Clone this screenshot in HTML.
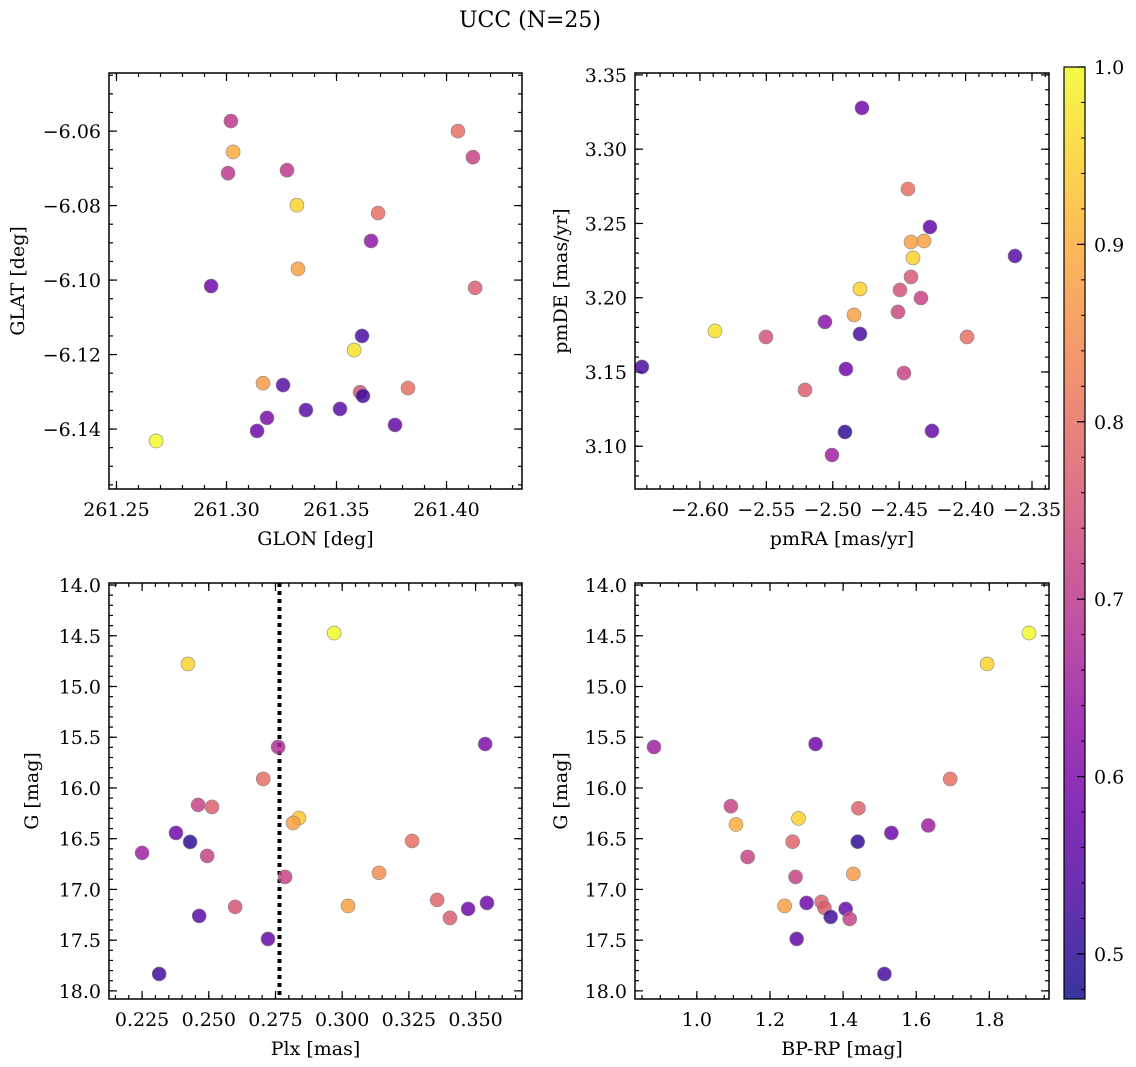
<!DOCTYPE html>
<html><head><meta charset="utf-8"><style>
body{margin:0;background:#fff;}
svg{display:block;font-family:"DejaVu Serif","Liberation Serif",serif;}
</style></head><body>
<svg id="fig" width="1136" height="1067" viewBox="0 0 1136 1067" xmlns="http://www.w3.org/2000/svg">
<text x="530" y="27" font-size="22" text-anchor="middle">UCC (N=25)</text>
</svg>
<script>
// ---- data ----
const glon=[261.3020,261.3030,261.3007,261.3275,261.3320,261.3325,261.2930,261.4052,261.4120,261.3689,261.3657,261.4130,261.3616,261.3580,261.3166,261.3257,261.3825,261.3607,261.3620,261.3184,261.3361,261.3516,261.3766,261.3139,261.2680];
const glat=[-6.0573,-6.0656,-6.0713,-6.0705,-6.0799,-6.0970,-6.1016,-6.0600,-6.0670,-6.0820,-6.0895,-6.1021,-6.1150,-6.1188,-6.1277,-6.1282,-6.1290,-6.1301,-6.1311,-6.1370,-6.1349,-6.1346,-6.1389,-6.1405,-6.1432];
const probTL=[0.70,0.90,0.70,0.70,0.95,0.88,0.58,0.80,0.72,0.80,0.63,0.77,0.53,0.97,0.87,0.55,0.80,0.75,0.52,0.60,0.55,0.55,0.56,0.58,1.0];
const pmra=[-2.478,-2.4434,-2.4268,-2.4411,-2.4313,-2.4396,-2.3628,-2.4411,-2.4336,-2.4494,-2.4795,-2.4509,-2.4840,-2.5059,-2.4795,-2.5887,-2.5503,-2.3989,-2.6437,-2.4901,-2.4464,-2.5209,-2.4908,-2.4253,-2.5006];
const pmde=[3.3278,3.2732,3.2476,3.2375,3.2382,3.2268,3.2281,3.2140,3.1998,3.2052,3.2059,3.1904,3.1884,3.1837,3.1756,3.1776,3.1736,3.1736,3.1534,3.1520,3.1493,3.1379,3.1096,3.1103,3.0941];
const probTR=[0.58,0.80,0.56,0.88,0.88,0.95,0.55,0.76,0.72,0.75,0.95,0.73,0.88,0.62,0.53,0.97,0.75,0.80,0.53,0.58,0.72,0.77,0.50,0.57,0.65];
const plx=[0.297,0.2422,0.276,0.3536,0.2704,0.246,0.2512,0.2838,0.2816,0.225,0.2377,0.243,0.3262,0.2494,0.3138,0.2786,0.3022,0.2599,0.3356,0.3404,0.3472,0.3543,0.2464,0.2722,0.2314];
const gBL=[14.473,14.778,15.596,15.567,15.911,16.167,16.187,16.296,16.345,16.640,16.443,16.532,16.522,16.670,16.837,16.877,17.163,17.172,17.103,17.281,17.192,17.133,17.261,17.488,17.833];
const probBL=[1.0,0.95,0.68,0.60,0.80,0.72,0.77,0.93,0.88,0.65,0.58,0.50,0.80,0.72,0.85,0.72,0.88,0.75,0.78,0.77,0.58,0.58,0.55,0.57,0.52];
const bprp=[1.9086,1.794,0.8827,1.3247,1.693,1.093,1.107,1.139,1.262,1.278,1.440,1.442,1.532,1.633,1.270,1.428,1.240,1.341,1.349,1.300,1.407,1.366,1.418,1.273,1.513];
const gBR=[14.473,14.778,15.596,15.567,15.911,16.18,16.36,16.68,16.53,16.30,16.53,16.20,16.443,16.370,16.877,16.847,17.163,17.123,17.182,17.133,17.192,17.271,17.291,17.488,17.833];
const probBR=[1.0,0.95,0.65,0.58,0.80,0.72,0.90,0.72,0.78,0.95,0.50,0.78,0.58,0.65,0.72,0.87,0.88,0.78,0.77,0.58,0.57,0.52,0.72,0.56,0.53];
const plxLine=[0.2765];
const cbTicks=[0.5,0.6,0.7,0.8,0.9,1.0];

const NS="http://www.w3.org/2000/svg";
const svg=document.getElementById('fig');
function mk(tag,attrs,parent){const e=document.createElementNS(NS,tag);for(const k in attrs)e.setAttribute(k,attrs[k]);(parent||svg).appendChild(e);return e;}
const stops=[[0,[13,8,135]],[0.1,[65,4,157]],[0.2,[106,0,168]],[0.3,[143,13,164]],[0.4,[177,42,144]],[0.5,[204,71,120]],[0.6,[225,100,98]],[0.7,[242,132,75]],[0.8,[252,166,54]],[0.9,[252,206,37]],[1,[240,249,33]]];
function plasma(t){t=Math.max(0,Math.min(1,t));for(let i=1;i<stops.length;i++){if(t<=stops[i][0]){const a=stops[i-1],b=stops[i];const f=(t-a[0])/(b[0]-a[0]);const c=a[1].map((v,j)=>Math.round(v+(b[1][j]-v)*f));return `rgb(${c[0]},${c[1]},${c[2]})`;}}return 'rgb(240,249,33)';}
const VMIN=0.4746,VMAX=1.0;
function cmap(v){return plasma((v-VMIN)/(VMAX-VMIN));}
function fmt(v,d){const s=Math.abs(v).toFixed(d);return (v<-1e-9?'\u2212':'')+s;}
const FS=19;

function panel(o){
  const {x0,y0,w,h,xd,yd,xt,yt,xmin,ymin,xdec,ydec,name,invert}=o;
  const sx=v=>x0+(v-xd[0])/(xd[1]-xd[0])*w;
  const sy=invert? v=>y0+(v-yd[0])/(yd[1]-yd[0])*h : v=>y0+h-(v-yd[0])/(yd[1]-yd[0])*h;
  const g=mk('g',{});
  
  
  const tk=(v,len,axis)=>{
    if(axis==='x'){const X=sx(v);if(X<x0-0.5||X>x0+w+0.5)return;
      mk('line',{x1:X,x2:X,y1:y0+h,y2:y0+h-len,stroke:'#000','stroke-width':1.2},g);
      mk('line',{x1:X,x2:X,y1:y0,y2:y0+len,stroke:'#000','stroke-width':1.2},g);}
    else{const Y=sy(v);if(Y<y0-0.5||Y>y0+h+0.5)return;
      mk('line',{x1:x0,x2:x0+len,y1:Y,y2:Y,stroke:'#000','stroke-width':1.2},g);
      mk('line',{x1:x0+w,x2:x0+w-len,y1:Y,y2:Y,stroke:'#000','stroke-width':1.2},g);}
  };
  const lo=Math.min(...xd),hi=Math.max(...xd);
  for(let v=Math.ceil(lo/xmin-1e-6)*xmin;v<=hi+1e-9;v+=xmin)tk(v,4,'x');
  const ylo=Math.min(...yd),yhi=Math.max(...yd);
  for(let v=Math.ceil(ylo/ymin-1e-6)*ymin;v<=yhi+1e-9;v+=ymin)tk(v,4,'y');
  xt.forEach(v=>{tk(v,8,'x');const t=mk('text',{x:sx(v),y:y0+h+27,'font-size':FS,'text-anchor':'middle'},g);t.textContent=fmt(v,xdec);
    
    });
  yt.forEach(v=>{tk(v,8,'y');const t=mk('text',{x:x0-8,y:sy(v)+7,'font-size':FS,'text-anchor':'end'},g);t.textContent=fmt(v,ydec);
    
    });
  const xl=mk('text',{x:x0+w/2,y:y0+h+56,'font-size':FS,'text-anchor':'middle'},g);xl.textContent=o.xlabel;
  
  
  const yl=mk('text',{x:0,y:0,'font-size':FS,'text-anchor':'middle',transform:`translate(${o.ylx},${y0+h/2}) rotate(-90)`},g);yl.textContent=o.ylabel;
  
  
  if(o.vline){o.vline.forEach(v=>{const l=mk('line',{x1:sx(v),x2:sx(v),y1:y0,y2:y0+h,stroke:'#000','stroke-width':4,'stroke-dasharray':'4 4'},g);
    
    });}
  o.xs.forEach((v,i)=>{const c=mk('circle',{cx:sx(v),cy:sy(o.ys[i]),r:7,fill:cmap(o.cs[i]),'fill-opacity':0.82,stroke:'#888','stroke-width':0.6},g);
    
    });
  mk('rect',{x:x0,y:y0,width:w,height:h,fill:'none',stroke:'#000','stroke-width':1.5},g);
}
panel({name:'glon-glat',x0:109,y0:73,w:413,h:416,xd:[261.2466,261.4343],yd:[-6.1561,-6.0444],xt:[261.25,261.30,261.35,261.40],yt:[-6.14,-6.12,-6.10,-6.08,-6.06],xmin:0.01,ymin:0.005,xdec:2,ydec:2,xlabel:'GLON [deg]',ylabel:'GLAT [deg]',ylx:24,xs:glon,ys:glat,cs:probTL});
panel({name:'pmra-pmde',x0:635,y0:73,w:414,h:416,xd:[-2.6489,-2.3372],yd:[3.0712,3.3513],xt:[-2.60,-2.55,-2.50,-2.45,-2.40,-2.35],yt:[3.10,3.15,3.20,3.25,3.30,3.35],xmin:0.01,ymin:0.01,xdec:2,ydec:2,xlabel:'pmRA [mas/yr]',ylabel:'pmDE [mas/yr]',ylx:567,xs:pmra,ys:pmde,cs:probTR});
panel({name:'plx-g',x0:109,y0:583,w:413,h:416,xd:[0.2126,0.3674],yd:[13.98,18.08],invert:true,xt:[0.225,0.250,0.275,0.300,0.325,0.350],yt:[14.0,14.5,15.0,15.5,16.0,16.5,17.0,17.5,18.0],xmin:0.005,ymin:0.1,xdec:3,ydec:1,xlabel:'Plx [mas]',ylabel:'G [mag]',ylx:38,xs:plx,ys:gBL,cs:probBL,vline:plxLine});
panel({name:'bprp-g',x0:635,y0:583,w:414,h:416,xd:[0.8308,1.9632],yd:[13.98,18.08],invert:true,xt:[1.0,1.2,1.4,1.6,1.8],yt:[14.0,14.5,15.0,15.5,16.0,16.5,17.0,17.5,18.0],xmin:0.05,ymin:0.1,xdec:1,ydec:1,xlabel:'BP-RP [mag]',ylabel:'G [mag]',ylx:567,xs:bprp,ys:gBR,cs:probBR});

const cb=mk('g',{});


const defs=mk('defs',{},svg);
const lg=mk('linearGradient',{id:'cbg',x1:0,y1:1,x2:0,y2:0},defs);
for(let i=0;i<=20;i++){const t=i/20;mk('stop',{offset:t,'stop-color':cmap(VMIN+t*(VMAX-VMIN)),'stop-opacity':0.82},lg);}
const CBX=1064,CBY=67,CBW=21,CBH=932;
const cy=v=>CBY+CBH-(v-VMIN)/(VMAX-VMIN)*CBH;
mk('rect',{x:CBX,y:CBY,width:CBW,height:CBH,fill:'url(#cbg)'},cb);
for(let v=0.48;v<=1.0001;v+=0.02)mk('line',{x1:CBX+CBW,x2:CBX+CBW-4,y1:cy(v),y2:cy(v),stroke:'#000','stroke-width':1},cb);
cbTicks.forEach(v=>{mk('line',{x1:CBX+CBW,x2:CBX+CBW-8,y1:cy(v),y2:cy(v),stroke:'#000','stroke-width':1.2},cb);
  const t=mk('text',{x:CBX+CBW+9,y:cy(v)+7,'font-size':FS},cb);t.textContent=v.toFixed(1);
  
  });
mk('rect',{x:CBX,y:CBY,width:CBW,height:CBH,fill:'none',stroke:'#000','stroke-width':1.2},cb);
</script>
</body></html>
